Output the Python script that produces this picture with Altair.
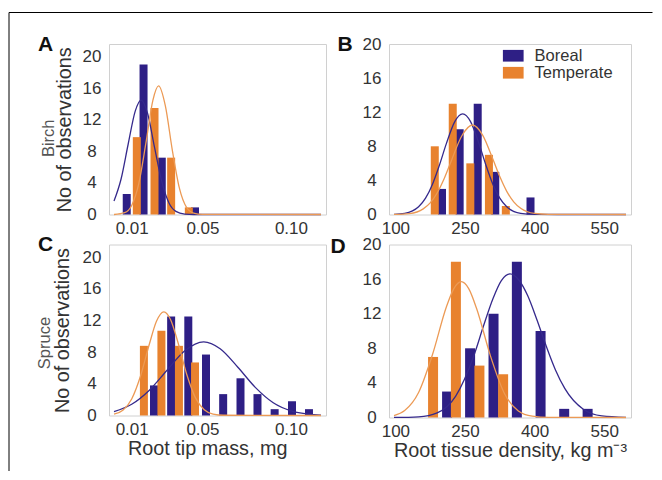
import altair as alt
import pandas as pd

FONT = "Liberation Sans"
SERIES = ["Boreal", "Temperate"]
BAR_COLORS = ["#2E1F85", "#E8822E"]
LINE_COLORS = ["#35298C", "#EC9A55"]
PANEL_LETTERS = ["A", "B", "C", "D"]
ROW_LABELS = ["Birch", "Spruce"]
Y_TITLE = "No of observations"
X_TITLES = ["Root tip mass, mg", "Root tissue density, kg m\u207b\u00b3"]
Y_TICKS = [0, 4, 8, 12, 16, 20]
MASS_TICKS = [0.01, 0.05, 0.10]
DENSITY_TICKS = [100, 250, 400, 550]

# ---- Panel A: Birch, root tip mass ----
a_bor_x = [0.0072, 0.0167, 0.0270, 0.0458]
a_bor_n = [2.6, 19.0, 7.2, 0.9]
a_tem_x = [0.0129, 0.0229, 0.0323, 0.0423]
a_tem_n = [9.8, 13.5, 7.2, 0.9]
a_bor_fit_x = [0.0, 0.004, 0.008, 0.012, 0.0153, 0.019, 0.023, 0.027, 0.031, 0.035, 0.040, 0.045, 0.117]
a_bor_fit_y = [1.7, 4.5, 8.9, 13.1, 14.5, 12.8, 8.4, 4.2, 1.5, 0.4, 0.06, 0.0, 0.0]
a_tem_fit_x = [0.0, 0.006, 0.010, 0.014, 0.018, 0.022, 0.0252, 0.029, 0.033, 0.037, 0.041, 0.045, 0.050, 0.117]
a_tem_fit_y = [0.0, 0.24, 1.15, 3.9, 9.0, 14.5, 16.3, 13.8, 8.1, 3.3, 0.9, 0.18, 0.02, 0.0]

# ---- Panel B: Birch, root tissue density ----
b_bor_x = [200.4, 238.5, 277.4, 315.2, 391.2]
b_bor_n = [3, 10, 13, 5, 2]
b_tem_x = [184.9, 223.6, 261.5, 301.6, 338.0]
b_tem_n = [8, 13, 6, 7, 1]
b_bor_fit_x = [97, 120, 150, 165, 180, 195, 210, 228, 245, 262, 280, 295, 310, 325, 340, 370, 400, 450, 597]
b_bor_fit_y = [0.02, 0.14, 0.91, 1.92, 3.56, 5.81, 8.34, 10.9, 11.8, 10.9, 8.34, 5.81, 3.56, 1.92, 0.91, 0.14, 0.02, 0.0, 0.0]
b_tem_fit_x = [97, 130, 160, 175, 190, 205, 220, 243, 266, 288, 310, 325, 340, 355, 370, 400, 430, 597]
b_tem_fit_y = [0.01, 0.11, 0.66, 1.36, 2.52, 4.19, 6.23, 9.21, 10.5, 9.32, 6.51, 4.45, 2.72, 1.49, 0.73, 0.12, 0.02, 0.0]

# ---- Panel C: Spruce, root tip mass ----
c_bor_x = [0.0226, 0.0323, 0.0420, 0.0520, 0.0617, 0.0715, 0.0811, 0.0908, 0.1006, 0.1102]
c_bor_n = [3.8, 12.5, 12.5, 7.7, 2.7, 4.7, 2.7, 0.8, 1.8, 0.8]
c_tem_x = [0.0169, 0.0268, 0.0367, 0.0458]
c_tem_n = [8.8, 10.7, 8.8, 6.7]
c_bor_fit_x = [0.0, 0.01, 0.02, 0.03, 0.04, 0.0507, 0.06, 0.07, 0.08, 0.09, 0.10, 0.11, 0.117]
c_bor_fit_y = [0.5, 1.42, 3.2, 5.72, 8.17, 9.3, 8.43, 6.1, 3.52, 1.61, 0.59, 0.17, 0.06]
c_tem_fit_x = [0.0, 0.005, 0.010, 0.015, 0.020, 0.024, 0.0282, 0.032, 0.036, 0.041, 0.046, 0.051, 0.056, 0.062, 0.117]
c_tem_fit_y = [0.16, 0.66, 2.09, 4.99, 9.03, 11.9, 13.1, 12.1, 9.35, 5.28, 2.26, 0.73, 0.18, 0.03, 0.0]

# ---- Panel D: Spruce, root tissue density ----
d_bor_x = [211.4, 261.0, 311.5, 361.8, 412.9, 463.8, 514.3]
d_bor_n = [3, 8, 12, 18, 10, 1, 1]
d_tem_x = [181.2, 230.4, 281.1, 332.2]
d_tem_n = [7, 18, 6, 5]
d_bor_fit_x = [97, 150, 190, 230, 270, 290, 310, 328, 347, 366, 385, 405, 425, 445, 465, 505, 545, 597]
d_bor_fit_y = [0.003, 0.08, 0.54, 2.48, 7.29, 10.6, 13.7, 15.8, 16.6, 15.9, 14.1, 11.3, 8.26, 5.5, 3.36, 0.95, 0.18, 0.01]
d_tem_fit_x = [97, 120, 150, 180, 210, 226, 242, 258, 275, 305, 335, 365, 395, 430, 597]
d_tem_fit_y = [0.23, 0.8, 2.89, 7.28, 12.8, 14.9, 15.7, 14.9, 12.6, 7.1, 2.78, 0.76, 0.15, 0.01, 0.0]

MASS_DOMAIN = [0.0, 0.117]
DENSITY_DOMAIN = [97, 597]


def frame(xs, ys):
    return pd.DataFrame({
        "value": xs[0] + xs[1],
        "count": ys[0] + ys[1],
        "series": [SERIES[0]] * len(xs[0]) + [SERIES[1]] * len(xs[1]),
    })


def text_layer(label, x, y, **kw):
    return alt.Chart(pd.DataFrame({"t": [label]})).mark_text(font=FONT, **kw).encode(
        text="t:N", x=alt.value(x), y=alt.value(y)
    )


def panel(letter, bars, fits, xdom, ymax, xticks, xfmt, width, height, bar_size,
          letter_xy, x_title=None, x_title_x=None, y_title_x=None,
          row_label=None, row_label_xy=None, legend=None, border=False):
    xs = alt.Scale(domain=xdom, nice=False, zero=False)
    ys = alt.Scale(domain=[0, ymax], nice=False)
    xaxis_kw = dict(values=xticks, format=xfmt, labelPadding=5.5, labelOverlap=False)
    if x_title:
        xaxis_kw.update(title=x_title, titleX=x_title_x, titleY=39,
                        titleAlign="center", titleBaseline="alphabetic")
    else:
        xaxis_kw.update(title=None)
    yaxis_kw = dict(values=Y_TICKS, format="d", labelAlign="center", labelPadding=17.5,
                    labelOverlap=False, labelBound=False, labelFlush=False)
    if y_title_x is not None:
        yaxis_kw.update(title=Y_TITLE, titleX=y_title_x, titleY=height / 2, titleAngle=270,
                        titleAlign="center", titleBaseline="alphabetic")
    else:
        yaxis_kw.update(title=None)

    bar = alt.Chart(bars).mark_bar(size=bar_size, orient="vertical").encode(
        x=alt.X("value:Q", scale=xs, axis=alt.Axis(**xaxis_kw)),
        y=alt.Y("count:Q", scale=ys, axis=alt.Axis(**yaxis_kw)),
        color=alt.Color("series:N", scale=alt.Scale(domain=SERIES, range=BAR_COLORS), legend=legend),
        order=alt.Order("series:N"),
    )
    line = alt.Chart(fits).mark_line(interpolate="monotone", strokeWidth=1.3).encode(
        x=alt.X("value:Q", scale=xs, axis=alt.Axis(**xaxis_kw)),
        y=alt.Y("count:Q", scale=ys, axis=alt.Axis(**yaxis_kw)),
        stroke=alt.Stroke("series:N", scale=alt.Scale(domain=SERIES, range=LINE_COLORS), legend=None),
    )
    layers = [bar, line,
              text_layer(letter, letter_xy[0], letter_xy[1], fontSize=21, fontWeight="bold",
                         color="#111111", align="center", baseline="middle")]
    if row_label:
        layers.append(text_layer(row_label, row_label_xy[0], row_label_xy[1], fontSize=16.5,
                                 color="#555555", angle=270, align="center", baseline="alphabetic"))
    if border:
        one = pd.DataFrame({"k": [0]})
        layers.append(alt.Chart(one).mark_rule(color="#000000", strokeWidth=1).encode(
            x=alt.value(-100), y=alt.value(-31.5), y2=alt.value(427)))
        layers.append(alt.Chart(one).mark_rule(color="#000000", strokeWidth=1).encode(
            x=alt.value(-100), x2=alt.value(543.5), y=alt.value(-31.5)))
    return alt.layer(*layers).properties(width=width, height=height)


legend_b = alt.Legend(
    orient="none", legendX=116, legendY=3.5, title=None, direction="vertical",
    symbolType="M-1.77,-1H1.77V1H-1.77Z", symbolSize=137, symbolStrokeWidth=0,
    symbolOpacity=1, labelFont=FONT, labelFontSize=16.5, labelColor="#333333",
    labelOffset=13.1, rowPadding=-3.5, padding=0, offset=0,
)

pA = panel(PANEL_LETTERS[0], frame([a_bor_x, a_tem_x], [a_bor_n, a_tem_n]),
           frame([a_bor_fit_x, a_tem_fit_x], [a_bor_fit_y, a_tem_fit_y]),
           MASS_DOMAIN, 21.6, MASS_TICKS, ".2f", 217, 170.5, 8,
           (-63.5, 0.5), y_title_x=-38.5, row_label=ROW_LABELS[0],
           row_label_xy=(-55.5, 94.3), border=True)
pB = panel(PANEL_LETTERS[1], frame([b_bor_x, b_tem_x], [b_bor_n, b_tem_n]),
           frame([b_bor_fit_x, b_tem_fit_x], [b_bor_fit_y, b_tem_fit_y]),
           DENSITY_DOMAIN, 20, DENSITY_TICKS, "d", 242, 170.5, 8,
           (-44, 1.2), legend=legend_b)
pC = panel(PANEL_LETTERS[2], frame([c_bor_x, c_tem_x], [c_bor_n, c_tem_n]),
           frame([c_bor_fit_x, c_tem_fit_x], [c_bor_fit_y, c_tem_fit_y]),
           MASS_DOMAIN, 21.6, MASS_TICKS, ".2f", 217, 171, 8,
           (-63.5, 0.0), x_title=X_TITLES[0], x_title_x=98.2, y_title_x=-41,
           row_label=ROW_LABELS[1], row_label_xy=(-59, 98.5))
pD = panel(PANEL_LETTERS[3], frame([d_bor_x, d_tem_x], [d_bor_n, d_tem_n]),
           frame([d_bor_fit_x, d_tem_fit_x], [d_bor_fit_y, d_tem_fit_y]),
           DENSITY_DOMAIN, 20, DENSITY_TICKS, "d", 242, 173, 10,
           (-51, 2.0), x_title=X_TITLES[1], x_title_x=121)

chart = (
    alt.concat(pA, pB, pC, pD, columns=2, spacing={"row": 29.5, "column": 63},
               bounds="flush", align="each")
    .resolve_scale(color="independent", stroke="independent")
    .properties(padding={"left": 0, "top": 3, "right": 0, "bottom": 0}, background="white")
    .configure_view(stroke="#d0d0d0", strokeWidth=1)
    .configure_axis(domain=False, ticks=False, tickSize=0, grid=False, labelOverlap=False,
                    labelFont=FONT, labelFontSize=17, labelColor="#333333",
                    titleFont=FONT, titleFontSize=19.8, titleColor="#333333",
                    titleFontWeight="normal")
)

chart.save("out.html", embed_options={"renderer": "svg", "actions": False})
